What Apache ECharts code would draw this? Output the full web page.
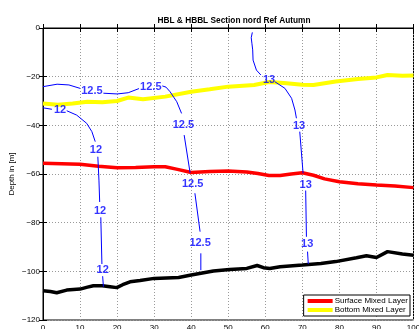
<!DOCTYPE html>
<html>
<head>
<meta charset="utf-8">
<script src="https://cdn.jsdelivr.net/npm/echarts/dist/echarts.min.js"></script>
<style>
html,body{margin:0;padding:0;background:#fff;}
#chart{width:419px;height:329px;}
</style>
</head>
<body>
<div id="chart"></div>
<script>
// Layer depths along the section: [distance, depth in m]
const surfaceMixedLayer = [
  [0,-55.6],[5,-55.8],[10,-56],[15,-56.8],[20,-57.4],[25,-57.3],[30,-57],[33,-57],
  [36,-58],[40,-59.4],[45,-59],[50,-58.8],[55,-59.2],[58,-59.8],[61,-60.6],[64,-60.6],
  [67,-60],[70,-59.5],[73,-60.5],[76,-62],[80,-63.2],[85,-64],[90,-64.5],[95,-64.9],[100,-65.6]
];
const bottomMixedLayer = [
  [0,-31],[4,-31.5],[8,-31],[12,-30.3],[16,-30.5],[20,-30],[23,-28.6],[27,-29.3],
  [33,-28.2],[40,-26.2],[45,-25.2],[50,-24.1],[57,-23.4],[61,-22.2],[65,-22.6],
  [70,-23.3],[73,-23.4],[79,-22],[85,-21],[90,-20.3],[93,-19.3],[97,-19.6],[100,-19.5]
];
const bottomDepth = [
  [0,-108],[2,-108.3],[3.7,-108.8],[6.4,-107.7],[10,-107.3],[12,-106.5],[13.6,-105.9],
  [16,-105.9],[18.1,-106.3],[19.9,-106.7],[21.5,-105.5],[23.5,-104.3],[26.2,-103.8],
  [30,-102.9],[36.6,-102.5],[40,-101.5],[46,-99.9],[50.4,-99.2],[55,-98.8],[57.8,-97.6],
  [59.5,-98.5],[61.2,-98.8],[64,-98.1],[70,-97.4],[75,-96.8],[79,-96],[84.6,-94.4],
  [87.3,-93.6],[90,-94.3],[93,-91.9],[97,-92.9],[100,-93.4]
];

// Isotherm contours, drawn as segments broken where the inline labels sit
const contour12 = [
  [[0,-32.8],[2.4,-33.4]],
  [[6.4,-34],[9.1,-35.8],[11.8,-39.2],[13.2,-42.6],[14.1,-46.7]],
  [[14.8,-52.9],[15.1,-62.5],[15.3,-71.5]],
  [[15.6,-77.8],[15.9,-97]],
  [[16.1,-102],[16.3,-106.3]]
];
const contour12Labels = [[4.6,-33.7,'12'],[14.3,-50.1,'12'],[15.4,-75.1,'12'],[16.1,-99.5,'12']];

const contour125 = [
  [[0,-24.1],[3.8,-23.1],[7,-23.4],[10,-24.8]],
  [[16.3,-26.8],[20,-27.1],[23,-26.6],[25.9,-24.9]],
  [[32.2,-23.8],[33.2,-24.3],[34.3,-26.2],[36.1,-30.3],[37.4,-35.1]],
  [[38.1,-44],[39.7,-59.5]],
  [[41,-67.9],[42.4,-83.7]],
  [[42.6,-92.6],[42.6,-99.5]]
];
const contour125Labels = [[13.2,-25.9,'12.5'],[29.1,-24.1,'12.5'],[37.9,-39.9,'12.5'],[40.4,-64.1,'12.5'],[42.4,-88.2,'12.5']];

const contour13 = [
  [[56.5,-1.8],[56.2,-4],[56.4,-6.5],[56.6,-9],[56.7,-13.2],[57.6,-17.3],[58.8,-19.3]],
  [[62.6,-22.1],[65.3,-24.8],[67.1,-28.9],[68,-33.7],[68.4,-37.1]],
  [[69.3,-42.6],[70.2,-59.7]],
  [[70.9,-66.8],[71.1,-85.8]],
  [[71.4,-91.9],[71.6,-97]]
];
const contour13Labels = [[61,-21.5,'13'],[69.1,-40.2,'13'],[70.9,-64.5,'13'],[71.3,-88.9,'13']];

const FONT = '"Liberation Sans", Arial, Helvetica, sans-serif';
const BLUE = '#0000ff';

function contourSeries(segments) {
  return segments.map(seg => ({
    type: 'line', data: seg, symbol: 'none', silent: true, z: 5,
    lineStyle: { color: BLUE, width: 1 }
  }));
}
function labelSeries(points) {
  return {
    type: 'scatter', data: points, symbolSize: 0, silent: true, z: 6,
    label: {
      show: true, position: 'inside', formatter: p => p.value[2],
      color: BLUE, fontSize: 11, fontWeight: 'bold', fontFamily: FONT
    }
  };
}

const chart = echarts.init(document.getElementById('chart'), null, { renderer: 'canvas' });

const axisCommon = {
  type: 'value',
  axisLine: { show: true, lineStyle: { color: '#000', width: 1 } },
  axisTick: { show: true, inside: true, length: 4, lineStyle: { color: '#000' } },
  axisLabel: { color: '#000', fontSize: 8, fontFamily: FONT,
    formatter: v => String(v).replace('-', '\u2212') }
};

chart.setOption({
  animation: false,
  backgroundColor: '#fff',
  title: {
    text: 'HBL & HBBL Section nord Ref Autumn',
    left: 229, top: 12, textAlign: 'center',
    textStyle: { fontSize: 8.3, fontWeight: 'bold', color: '#000', fontFamily: FONT }
  },
  // vertical axis title, rotated to read bottom-to-top
  graphic: [{
    type: 'text', x: 12, y: 174, rotation: Math.PI / 2, silent: true,
    style: {
      text: 'Depth in [m]', fill: '#000', align: 'center', verticalAlign: 'middle',
      font: '8px ' + FONT
    }
  }],
  grid: {
    left: 43, right: 5.5, top: 28, bottom: 9,
    containLabel: false, outerBoundsMode: 'none',
    show: true, borderColor: '#000', borderWidth: 1
  },
  legend: {
    data: ['Surface Mixed Layer', 'Bottom Mixed Layer'],
    orient: 'vertical', right: 9, bottom: 13,
    backgroundColor: '#fff', borderColor: '#000', borderWidth: 1, borderRadius: 0,
    padding: [2, 2, 2, 4], itemGap: 1, itemWidth: 25, itemHeight: 4, icon: 'rect',
    textStyle: { fontSize: 8, color: '#000', fontFamily: FONT, padding: [0, 0, 0, -3] }
  },
  xAxis: [
    Object.assign({}, axisCommon, {
      min: 0, max: 100, interval: 10,
      axisLabel: Object.assign({}, axisCommon.axisLabel, { margin: 4 }),
      splitLine: { show: true, lineStyle: { color: '#9a9a9a', type: [1, 2], width: 1 } }
    }),
    Object.assign({}, axisCommon, {
      min: 0, max: 100, interval: 10, position: 'top',
      axisLabel: { show: false }, splitLine: { show: false }
    })
  ],
  yAxis: [
    Object.assign({}, axisCommon, {
      min: -120, max: 0, interval: 20,
      axisLabel: Object.assign({}, axisCommon.axisLabel, { margin: 3 }),
      splitLine: { show: true, lineStyle: { color: '#9a9a9a', type: [1, 2], width: 1 } }
    }),
    Object.assign({}, axisCommon, {
      min: -120, max: 0, interval: 20, position: 'right',
      axisLabel: { show: false }, splitLine: { show: false }
    })
  ],
  series: [
    { name: 'Bottom Mixed Layer', type: 'line', data: bottomMixedLayer, symbol: 'none', z: 3,
      color: '#ffff00', lineStyle: { color: '#ffff00', width: 4 } },
    { name: 'Surface Mixed Layer', type: 'line', data: surfaceMixedLayer, symbol: 'none', z: 3,
      color: '#ff0000', lineStyle: { color: '#ff0000', width: 3.5 } },
    { name: 'Bottom', type: 'line', data: bottomDepth, symbol: 'none', z: 3,
      lineStyle: { color: '#000', width: 3.5 } }
  ].concat(
    contourSeries(contour12), contourSeries(contour125), contourSeries(contour13),
    [labelSeries(contour12Labels), labelSeries(contour125Labels), labelSeries(contour13Labels)]
  )
});
</script>
</body>
</html>
